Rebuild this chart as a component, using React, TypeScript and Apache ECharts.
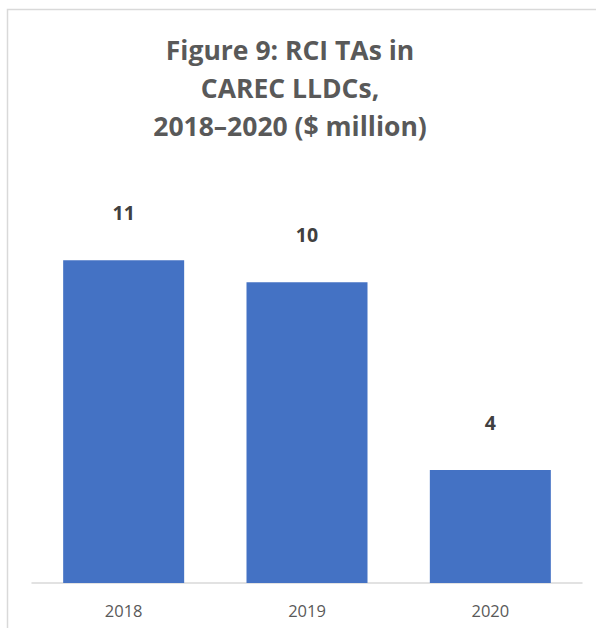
import React, { useEffect, useRef } from "react";
import * as echarts from "echarts";

const categories = ["2018", "2019", "2020"];
const values = [11.0, 10.25, 3.85];
const titleLines = ["Figure 9: RCI TAs in", "CAREC LLDCs,", "2018–2020 ($ million)"];

const FONT = "'Open Sans', 'Noto Sans', sans-serif";

export default function App() {
  const ref = useRef<HTMLDivElement>(null);
  useEffect(() => {
    document.body.style.margin = "0";
    const chart = echarts.init(ref.current!, null, { renderer: "svg" });
    const titleY = [50, 88, 126];
    chart.setOption({
      animation: false,
      backgroundColor: "#ffffff",
      graphic: [
        {
          type: "polyline",
          shape: { points: [[7.5, 640], [7.5, 9.5], [600, 9.5]] },
          style: { stroke: "#d9d9d9", lineWidth: 1.5, fill: null },
          silent: true,
        },
        ...titleLines.map((t, i) => ({
          type: "text",
          x: 290,
          y: titleY[i],
          style: {
            text: t,
            fontFamily: FONT,
            fontWeight: "bold",
            fontSize: 26.5,
            fill: "#595959",
            textAlign: "center",
            textVerticalAlign: "middle",
          },
        })),
      ],
      grid: { left: 32, right: 14, top: 231, bottom: 45, containLabel: false },
      xAxis: {
        type: "category",
        data: categories,
        axisLine: { show: true, lineStyle: { color: "#d9d9d9", width: 1.5 } },
        axisTick: { show: false },
        axisLabel: {
          color: "#595959",
          fontSize: 16.5,
          fontFamily: FONT,
          margin: 19,
        },
      },
      yAxis: {
        type: "value",
        min: 0,
        max: 12,
        show: false,
        splitLine: { show: false },
      },
      series: [
        {
          type: "bar",
          data: values,
          barCategoryGap: "34%",
          itemStyle: { color: "#4472c4" },
          label: {
            show: true,
            position: "top",
            distance: 38,
            formatter: (p: any) => String(Math.round(p.value)),
            color: "#404040",
            fontWeight: "bold",
            fontSize: 19.5,
            fontFamily: FONT,
          },
        },
      ],
    });
    return () => chart.dispose();
  }, []);
  return <div ref={ref} style={{ width: 596, height: 628 }} />;
}
